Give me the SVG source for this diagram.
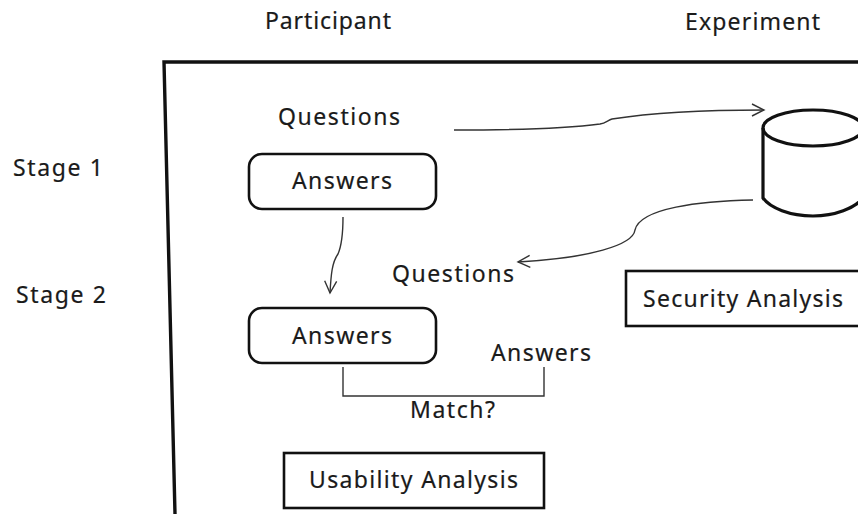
<svg xmlns="http://www.w3.org/2000/svg" width="858" height="514" viewBox="0 0 858 514">
<style>
text{font-family:"Noto Sans","DejaVu Sans",sans-serif;font-size:23px;fill:#1a1a1a;stroke:#1a1a1a;stroke-width:.2}
.b{fill:#fff;stroke:#111;stroke-width:2.6}
.c{fill:none;stroke:#333;stroke-width:1.4}
</style>
<defs><marker id="a" markerWidth="16" markerHeight="14" refX="13" refY="7" orient="auto" markerUnits="userSpaceOnUse"><path d="M1 1L13 7L1 13" fill="none" stroke="#333" stroke-width="1.4"/></marker></defs>
<rect width="858" height="514" fill="#fff"/>
<path d="M175 514L164 62H858" fill="none" stroke="#111" stroke-width="3.4"/>
<text x="265" y="29" textLength="126">Participant</text>
<text x="685" y="30" textLength="135">Experiment</text>
<text x="13" y="176" textLength="90">Stage 1</text>
<text x="16" y="303" textLength="90">Stage 2</text>
<text x="278" y="125" textLength="122">Questions</text>
<text x="392" y="282" textLength="122">Questions</text>
<text x="491" y="361" textLength="100">Answers</text>
<text x="410" y="418" textLength="85">Match?</text>
<g id="connectors">
<path class="c" marker-end="url(#a)" d="M454 130C510 130 570 128 600 124C606 123 608 120 612 119C650 113 710 110 764 110"/>
<path class="c" marker-end="url(#a)" d="M753 200C700 201 640 208 635 230C633 245 590 258 518 262"/>
<path class="c" marker-end="url(#a)" d="M343 217C343 235 341 247 338 254C332 262 331 275 330 293"/>
<path class="c" d="M343 367V396H544V367"/>
</g>
<g id="answers1"><rect class="b" x="249" y="154" width="187" height="55" rx="13"/><text x="292" y="189" textLength="100">Answers</text></g>
<g id="answers2"><rect class="b" x="249" y="308" width="187" height="55" rx="13"/><text x="292" y="344" textLength="100">Answers</text></g>
<g id="database"><path d="M863 128A50 18 0 0 0 763 128V198C770 208 790 216 813 216C835 216 855 208 863 198V128" fill="#fff" stroke="#111" stroke-width="3.2"/><path d="M763 128A50 18 0 0 0 863 128" fill="none" stroke="#111" stroke-width="3.2"/></g>
<g id="security"><rect class="b" x="626" y="271" width="240" height="55"/><text x="643" y="307" textLength="200">Security Analysis</text></g>
<g id="usability"><rect class="b" x="284" y="453" width="260" height="55"/><text x="309" y="488" textLength="209">Usability Analysis</text></g>
</svg>
